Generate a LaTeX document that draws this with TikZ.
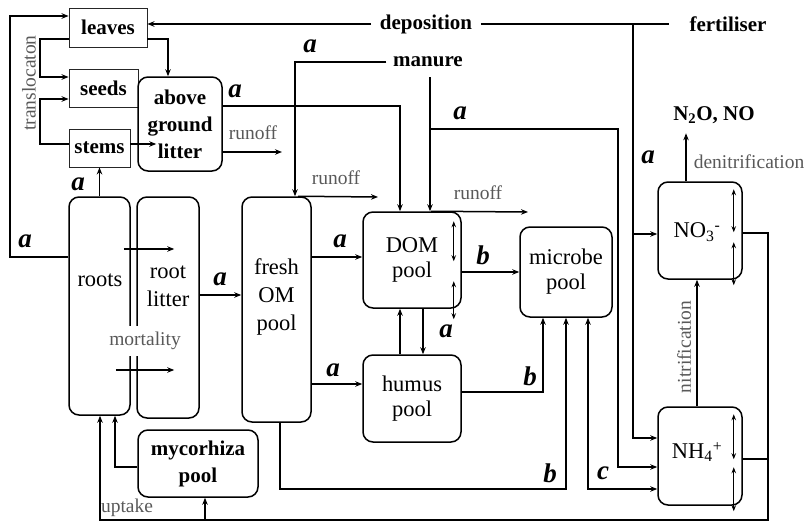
\documentclass[tikz,border=0pt]{standalone}
\usepackage{fontspec}
\setmainfont{Liberation Serif}
\usetikzlibrary{arrows.meta,calc}
\begin{document}
\begin{tikzpicture}[x=1pt,y=-1pt,
  line width=1.5pt,
  arr/.style={-{Stealth[length=7pt,width=5.5pt]}},
  arrboth/.style={{Stealth[length=7pt,width=5.5pt]}-{Stealth[length=7pt,width=5.5pt]}},
  dbl/.style={{Stealth[length=6pt,width=4.5pt]}-{Stealth[length=6pt,width=4.5pt]}, line width=1.1pt},
  pool/.style={draw, rounded corners=10pt, line width=1.5pt, inner sep=0pt, align=center, font=\fontsize{22.5}{25}\selectfont},
  bpool/.style={pool, font=\bfseries\fontsize{21}{27}\selectfont},
  plant/.style={draw=black!85, line width=0.9pt, inner sep=0pt, font=\bfseries\fontsize{21}{25}\selectfont},
  txt/.style={inner sep=0pt, align=center, font=\fontsize{22.5}{28}\selectfont},
  btxt/.style={inner sep=0pt, align=center, font=\bfseries\fontsize{21}{25}\selectfont},
  lab/.style={inner sep=0pt, font=\bfseries\itshape\fontsize{27}{27}\selectfont},
  gtxt/.style={inner sep=0pt, text=black!65, font=\fontsize{19.5}{20}\selectfont},
]
\useasboundingbox (0,0) rectangle (809,522);

% ---------- boxes ----------
\node[plant, minimum width=78, minimum height=39] (leaves) at (108,27.5) {leaves};
\node[plant, minimum width=69, minimum height=38] (seeds) at (103.5,88) {seeds};
\node[plant, minimum width=61, minimum height=38] (stems) at (99.5,148) {stems};
\node[bpool, fill=white, minimum width=84, minimum height=94] (agl) at (180,124) {above\\ground\\litter};

\node[pool, minimum width=61, minimum height=218] (roots) at (99.5,306) {};
\node[txt] (rootsT) at (100,280) {roots};
\node[pool, minimum width=62, minimum height=221] (rlit) at (168,307.5) {};
\node[txt] (rlitT) at (168,286) {root\\litter};
\node[pool, minimum width=69, minimum height=225] (fresh) at (276.5,309.5) {};
\node[txt] (freshT) at (276.5,297) {fresh\\OM\\pool};
\node[pool, minimum width=98, minimum height=96] (dom) at (412,260) {DOM\\pool};
\node[pool, minimum width=98, minimum height=87] (humus) at (412,398.5) {humus\\pool};
\node[pool, minimum width=92, minimum height=90] (microbe) at (566,272) {microbe\\pool};
\node[bpool, minimum width=120, minimum height=67] (myco) at (198,463.5) {mycorhiza\\pool};
\node[pool, minimum width=84, minimum height=97] (no3) at (700,230.5) {};
\node[txt] (no3T) at (697,232) {NO\textsubscript{3}\textsuperscript{-}};
\node[pool, minimum width=84, minimum height=98] (nh4) at (700,456) {};
\node[txt] (nh4T) at (697,452) {NH\textsubscript{4}\textsuperscript{+}};

% ---------- top texts ----------
\node[btxt] (depo) at (426,24) {deposition};
\node[btxt] (fert) at (728,24) {fertiliser};
\node[btxt] (manure) at (428,62) {manure};
\node[btxt] (n2o) at (714,115) {N\textsubscript{2}O, NO};

% ---------- connectors ----------
\draw[arr] ([xshift=-8pt]depo.west) -- (leaves.east |- depo.west);
\draw ([xshift=8pt]depo.east) -- ([xshift=-20pt]fert.west);
\coordinate (fj) at (633,24);
\draw[arr] (fj) |- (no3.west |- 0,234);
\draw[arr] (fj) |- (nh4.west |- 0,438);

\draw[arr] ([xshift=-6pt]manure.west) -| (fresh.north -| 295,0);
\coordinate (mtop) at (430,77);
\draw[arr] (mtop) -- (dom.north -| mtop);
\draw[arr] (mtop |- 0,129) -- (618,129) -- (618,467) -- (nh4.west |- 0,467);

\draw[arr] (agl.east |- 0,106) -| (dom.north -| 400,0);
\coordinate (ro1) at (282,152);
\draw[arr] (agl.east |- ro1) -- (ro1);
\draw[arr] (leaves.east |- 0,39) -| (agl.north -| 168,0);
\draw[arr] (leaves.west |- 0,39) -- (40,39) |- (seeds.west |- 0,77);
\draw[arr] (stems.west |- 0,144) -- (40,144) |- (seeds.west |- 0,99);
\draw[arr] (stems.east |- 0,144) -- ($(agl.west |- 0,144)+(19,0)$);

\draw[arr] (roots.west |- 0,257) -- (10,257) -- (10,16) -- (leaves.west |- 0,16);
\draw[arr] (roots.north -| stems.south) -- (stems.south);

\draw[arr] ($(roots.east |- 0,249)+(-7,0)$) -- ($(rlit.west |- 0,249)+(38,0)$);
\draw[arr] ($(roots.east |- 0,370)+(-15,0)$) -- ($(rlit.west |- 0,370)+(38,0)$);
\node[gtxt, fill=white, minimum height=30pt, inner xsep=1pt] (mort) at (145,341) {mortality};

\draw[arr] (rlit.east |- 0,295) -- (fresh.west |- 0,295);
\coordinate (ro2) at (378,197);
\draw[arr] (fresh.north -| 298,0) -- (ro2);
\draw[arr] (fresh.east |- 0,257) -- (dom.west |- 0,257);
\draw[arr] (fresh.east |- 0,384) -- (humus.west |- 0,384);
\draw[arr] (fresh.south -| 280,0) |- (566,489) -- (microbe.south -| 566,0);

\draw[arr] (dom.east |- 0,272) -- (microbe.west |- 0,272);
\draw[arr] (humus.east |- 0,392) -| (microbe.south -| 543,0);
\draw[arr] (humus.north -| 400,0) -- (dom.south -| 400,0);
\draw[arr] (dom.south -| 423,0) -- (humus.north -| 423,0);
\draw[dbl] ($(dom.north east)+(-8,10)$) -- ($(dom.north east)+(-8,50)$);
\draw[dbl] ($(dom.north east)+(-8,70)$) -- ($(dom.north east)+(-8,108)$);
\coordinate (ro3) at (528,212);
\draw[arr] (dom.north -| 431,0) -- (ro3);

\draw[arrboth] (microbe.south -| 588,0) |- (nh4.west |- 0,489);

\draw[arr] (no3.north -| 686,0) -- ([yshift=-9pt]n2o.south -| 686,0);
\draw[arr] (nh4.north -| 697,0) -- (no3.south -| 697,0);
\draw[dbl] ($(no3.north east)+(-9,8)$) -- ($(no3.north east)+(-9,51)$);
\draw[dbl] ($(no3.north east)+(-9,61)$) -- ($(no3.north east)+(-9,104)$);
\draw[dbl] ($(nh4.north east)+(-9,8)$) -- ($(nh4.north east)+(-9,53)$);
\draw[dbl] ($(nh4.north east)+(-9,61)$) -- ($(nh4.north east)+(-9,105)$);

\draw[arr] (no3.east |- 0,233) -- (768,233) -- (768,520) -- (100,520) -- (roots.south -| 100,0);
\draw (nh4.east |- 0,459) -- (768,459);
\draw[arr] (205,520) -- (myco.south -| 205,0);
\draw[arr] (myco.west |- 0,467) -| (roots.south -| 115,0);

% ---------- small grey labels ----------
\node[gtxt, rotate=90] (transl) at (29,83) {translocaton};
\node[gtxt] (runoff1) at (253,133) {runoff};
\node[gtxt] (runoff2) at (336,178) {runoff};
\node[gtxt] (runoff3) at (478,193) {runoff};
\node[gtxt] (uptake) at (127,508) {uptake};
\node[gtxt] (denit) at (749,162) {denitrification};
\node[gtxt, rotate=90] (nitr) at (684,347) {nitrification};

% ---------- rate labels ----------
\node[lab] (a1) at (25,241) {a};
\node[lab] (a2) at (78,184) {a};
\node[lab] (a3) at (235,91) {a};
\node[lab] (a4) at (310,46) {a};
\node[lab] (a5) at (460,113) {a};
\node[lab] (a6) at (220,279) {a};
\node[lab] (a7) at (340,241) {a};
\node[lab] (a8) at (333,370) {a};
\node[lab] (a9) at (446,331) {a};
\node[lab] (a10) at (648,157) {a};
\node[lab] (b1) at (483,255) {b};
\node[lab] (b2) at (530,376) {b};
\node[lab] (b3) at (550,473) {b};
\node[lab] (c1) at (603,473) {c};
\end{tikzpicture}
\end{document}
